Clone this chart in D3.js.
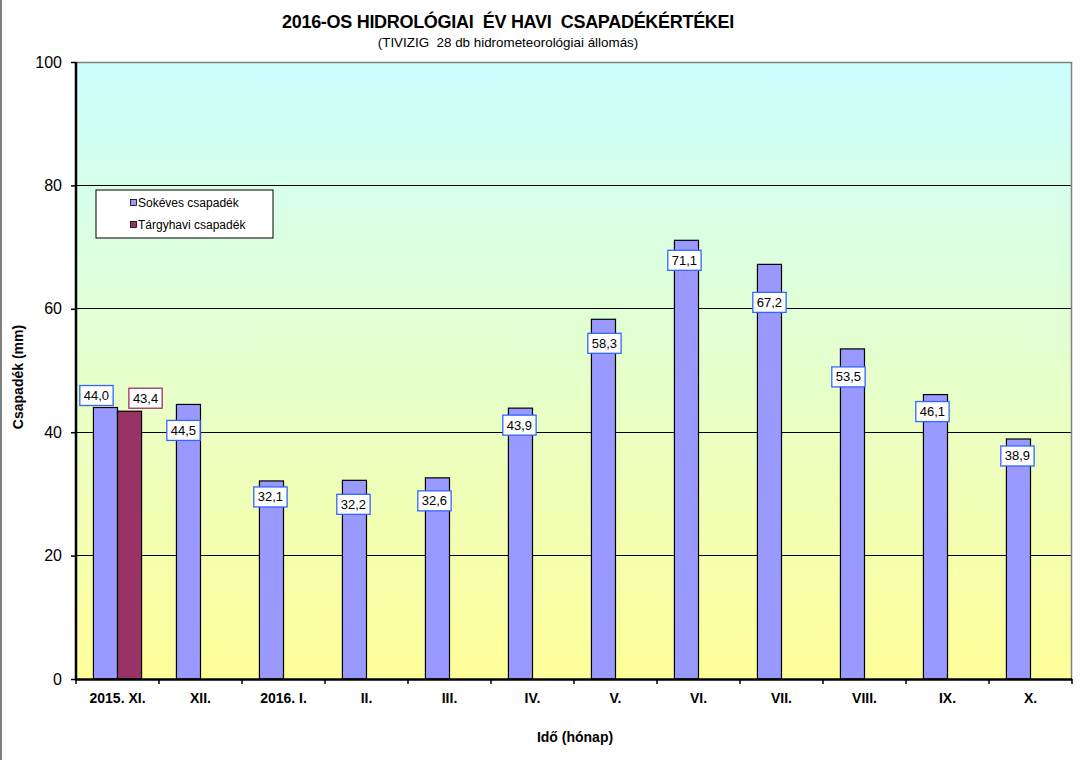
<!DOCTYPE html>
<html><head><meta charset="utf-8">
<script src="https://cdn.jsdelivr.net/npm/d3@7"></script>
<style>body{margin:0;background:#fff;} svg{display:block;font-family:"Liberation Sans",Arial,sans-serif;}</style>
</head><body>
<script>
const categories = ["2015. XI.","XII.","2016. I.","II.","III.","IV.","V.","VI.","VII.","VIII.","IX.","X."];
const sokeves = [44.0,44.5,32.1,32.2,32.6,43.9,58.3,71.1,67.2,53.5,46.1,38.9];
const targyhavi = [43.4,null,null,null,null,null,null,null,null,null,null,null];
const yTicks = [0,20,40,60,80,100];
const seriesNames = ["Sokéves csapadék","Tárgyhavi csapadék"];
// label placement nudges (px) relative to bar top centre, mimicking the original
const nudgeSok = [[-9,-12],[-5,26],[-1,16],[-1,24],[-3,23],[-1,17],[1,24],[-2,20],[0,38],[-4,28],[-3,17],[-1,17]];
const nudgeTar = [[16,-13]];

const W=1084,H=760;
const m={l:76,r:1072,t:62,b:679};
const svg=d3.select("body").append("svg").attr("width",W).attr("height",H);
const defs=svg.append("defs");
const g=defs.append("linearGradient").attr("id","bg").attr("x1",0).attr("y1",0).attr("x2",0).attr("y2",1);
g.append("stop").attr("offset","0%").attr("stop-color","#ccffff");
g.append("stop").attr("offset","100%").attr("stop-color","#ffff99");

svg.append("rect").attr("x",0).attr("y",0).attr("width",W).attr("height",H).attr("fill","#fff");
svg.append("line").attr("x1",1).attr("x2",1).attr("y1",0).attr("y2",H).attr("stroke","#808080").attr("stroke-width",2);

const x=d3.scaleBand().domain(categories).range([m.l,m.r]).padding(0);
const y=d3.scaleLinear().domain([0,100]).range([m.b,m.t]);

svg.append("rect").attr("x",m.l).attr("y",m.t).attr("width",m.r-m.l).attr("height",m.b-m.t).attr("fill","url(#bg)");
// grid
svg.append("g").selectAll("line").data(yTicks.filter(d=>d>0&&d<100)).join("line")
  .attr("x1",m.l).attr("x2",m.r).attr("y1",d=>y(d)).attr("y2",d=>y(d)).attr("stroke","#000").attr("stroke-width",1).attr("shape-rendering","crispEdges");
// plot border top/right gray
svg.append("path").attr("d",`M${m.l},${m.t+0.5}H${m.r-0.5}V${m.b}`).attr("fill","none").attr("stroke","#808080").attr("stroke-width",1.5);

const bw = x.bandwidth()*0.29;
const off = (x.bandwidth()-2*bw)/2;
const bars=svg.append("g");
bars.selectAll("rect.s").data(sokeves).join("rect").attr("class","s")
  .attr("x",(d,i)=>x(categories[i])+off).attr("width",bw)
  .attr("y",d=>y(d)).attr("height",d=>y(0)-y(d))
  .attr("fill","#9999ff").attr("stroke","#000").attr("stroke-width",1.2);
bars.selectAll("rect.t").data(targyhavi.map((v,i)=>({v,i})).filter(d=>d.v!=null)).join("rect").attr("class","t")
  .attr("x",d=>x(categories[d.i])+off+bw).attr("width",bw)
  .attr("y",d=>y(d.v)).attr("height",d=>y(0)-y(d.v))
  .attr("fill","#993366").attr("stroke","#000").attr("stroke-width",1.2);

// axes
const ya=svg.append("g").attr("transform",`translate(${m.l},0)`)
  .call(d3.axisLeft(y).tickValues(yTicks).tickSize(5).tickPadding(9).tickFormat(d3.format("d")));
ya.select(".domain").remove();
ya.selectAll("line").attr("stroke","#000").attr("stroke-width",1.5);
ya.selectAll("text").attr("font-size",16).attr("fill","#000").attr("font-family","Liberation Sans, Arial");
svg.append("line").attr("x1",m.l).attr("x2",m.l).attr("y1",m.t).attr("y2",m.b+1).attr("stroke","#000").attr("stroke-width",2.5);

const xa=svg.append("g").attr("transform",`translate(0,${m.b})`)
  .call(d3.axisBottom(x).tickSize(0).tickPadding(14));
xa.select(".domain").remove();
xa.selectAll("text").attr("font-size",14).attr("font-weight","bold").attr("fill","#000").attr("font-family","Liberation Sans, Arial");
svg.append("g").selectAll("line").data(d3.range(categories.length+1)).join("line")
  .attr("x1",i=>m.l+i*x.bandwidth()).attr("x2",i=>m.l+i*x.bandwidth())
  .attr("y1",m.b).attr("y2",m.b+5).attr("stroke","#000").attr("stroke-width",1.5);
svg.append("line").attr("x1",m.l-1).attr("x2",m.r).attr("y1",m.b+0.5).attr("y2",m.b+0.5).attr("stroke","#000").attr("stroke-width",2.5);

// data labels
const fmt=v=>d3.format(".1f")(v).replace(".",",");
function label(cx,cy,text,color){
  const gg=svg.append("g");
  const t=gg.append("text").attr("x",cx).attr("y",cy+4.5).attr("text-anchor","middle").attr("font-size",13).attr("fill","#000").text(text);
  const w=t.node().getComputedTextLength()+8;
  gg.insert("rect","text").attr("x",cx-w/2).attr("y",cy-10).attr("width",w).attr("height",20)
    .attr("fill","#fff").attr("stroke",color).attr("stroke-width",1.3);
}
sokeves.forEach((v,i)=>{
  const cx=x(categories[i])+off+bw/2+nudgeSok[i][0];
  const cy=y(v)+nudgeSok[i][1];
  label(cx,cy,fmt(v),"#3366ff");
});
targyhavi.forEach((v,i)=>{
  if(v==null) return;
  const cx=x(categories[i])+off+bw*1.5+nudgeTar[i][0];
  const cy=y(v)+nudgeTar[i][1];
  label(cx,cy,fmt(v),"#993366");
});

// legend
const lg=svg.append("g").attr("transform","translate(96,190)");
lg.append("rect").attr("x",0).attr("y",0).attr("width",177).attr("height",48).attr("fill","#fff").attr("stroke","#000").attr("stroke-width",1);
const lcol=["#9999ff","#993366"];
seriesNames.forEach((n,i)=>{
  lg.append("rect").attr("x",34.5).attr("y",9.5+i*22).attr("width",6).attr("height",6).attr("fill",lcol[i]).attr("stroke","#000").attr("stroke-width",0.8);
  lg.append("text").attr("x",42).attr("y",17+i*22).attr("font-size",12).attr("fill","#000").text(n);
});

// titles
svg.append("text").attr("x",508).attr("y",28).attr("text-anchor","middle").attr("font-size",18).attr("font-weight","bold").attr("letter-spacing",-0.3).style("white-space","pre")
  .text("2016-OS HIDROLÓGIAI  ÉV HAVI  CSAPADÉKÉRTÉKEI");
svg.append("text").attr("x",508).attr("y",47).attr("text-anchor","middle").attr("font-size",13.4).style("white-space","pre")
  .text("(TIVIZIG  28 db hidrometeorológiai állomás)");
svg.append("text").attr("transform","translate(23,377) rotate(-90)").attr("text-anchor","middle").attr("font-size",14).attr("font-weight","bold").text("Csapadék (mm)");
svg.append("text").attr("x",575).attr("y",742).attr("text-anchor","middle").attr("font-size",14).attr("font-weight","bold").text("Idő (hónap)");
</script>
</body></html>
